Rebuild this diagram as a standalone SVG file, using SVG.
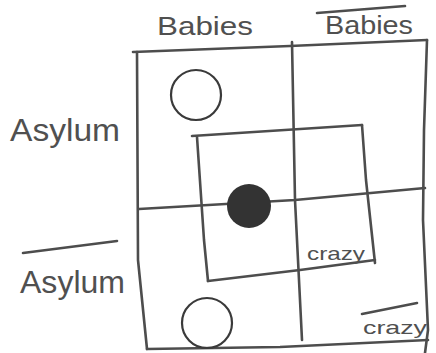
<svg xmlns="http://www.w3.org/2000/svg" width="436" height="353" viewBox="0 0 436 353">
<style>
.ln{fill:none;stroke:#4d4d4d;stroke-width:2.6;stroke-linecap:round;stroke-linejoin:round}
.lbl{font-family:"Liberation Sans","DejaVu Sans",sans-serif;fill:#505050}
.ring{fill:none;stroke:#3a3a3a;stroke-width:2.2}
</style>
<rect width="436" height="353" fill="#ffffff"/>
<g id="connectors">
<path class="ln" d="M133,52 L290,46 L427,40"/>
<path class="ln" d="M427,40 L424,130 L423,220 L428,330 L425,353"/>
<path class="ln" d="M137,52 L138,260 L147,349"/>
<path class="ln" d="M147,349 L280,347 L428,340"/>
<path class="ln" d="M292,42 L295,200 L302,340"/>
<path class="ln" d="M139,209 L295,200 L425,188"/>
</g>
<g id="inner-box">
<path class="ln" d="M192,136 L362,125"/>
<path class="ln" d="M362,125 L366,180 L375,263"/>
<path class="ln" d="M375,260 L300,270 L208,281"/>
<path class="ln" d="M197,137 L204,240 L208,281"/>
</g>
<g id="babies">
<text class="lbl" x="157" y="35" font-size="26" textLength="96" lengthAdjust="spacingAndGlyphs">Babies</text>
</g>
<g id="not-babies">
<path class="ln" d="M317,13 L405,6" stroke-width="2"/>
<text class="lbl" x="325" y="34" font-size="26" textLength="88" lengthAdjust="spacingAndGlyphs">Babies</text>
</g>
<g id="asylum">
<text class="lbl" x="10" y="141" font-size="32" textLength="110" lengthAdjust="spacingAndGlyphs">Asylum</text>
</g>
<g id="not-asylum">
<path class="ln" d="M23,253 L117,241" stroke-width="2"/>
<text class="lbl" x="20" y="293" font-size="32" textLength="105" lengthAdjust="spacingAndGlyphs">Asylum</text>
</g>
<g id="crazy">
<text class="lbl" x="307" y="260" font-size="19" textLength="58" lengthAdjust="spacingAndGlyphs">crazy</text>
</g>
<g id="not-crazy">
<path class="ln" d="M362,314 L417,303" stroke-width="2"/>
<text class="lbl" x="363" y="334" font-size="19" textLength="64" lengthAdjust="spacingAndGlyphs">crazy</text>
</g>
<g id="circle-top">
<circle class="ring" cx="196" cy="95" r="25"/>
</g>
<g id="circle-center">
<circle cx="249" cy="206" r="22" fill="#333333"/>
</g>
<g id="circle-bottom">
<circle class="ring" cx="207" cy="323" r="25"/>
</g>
</svg>
